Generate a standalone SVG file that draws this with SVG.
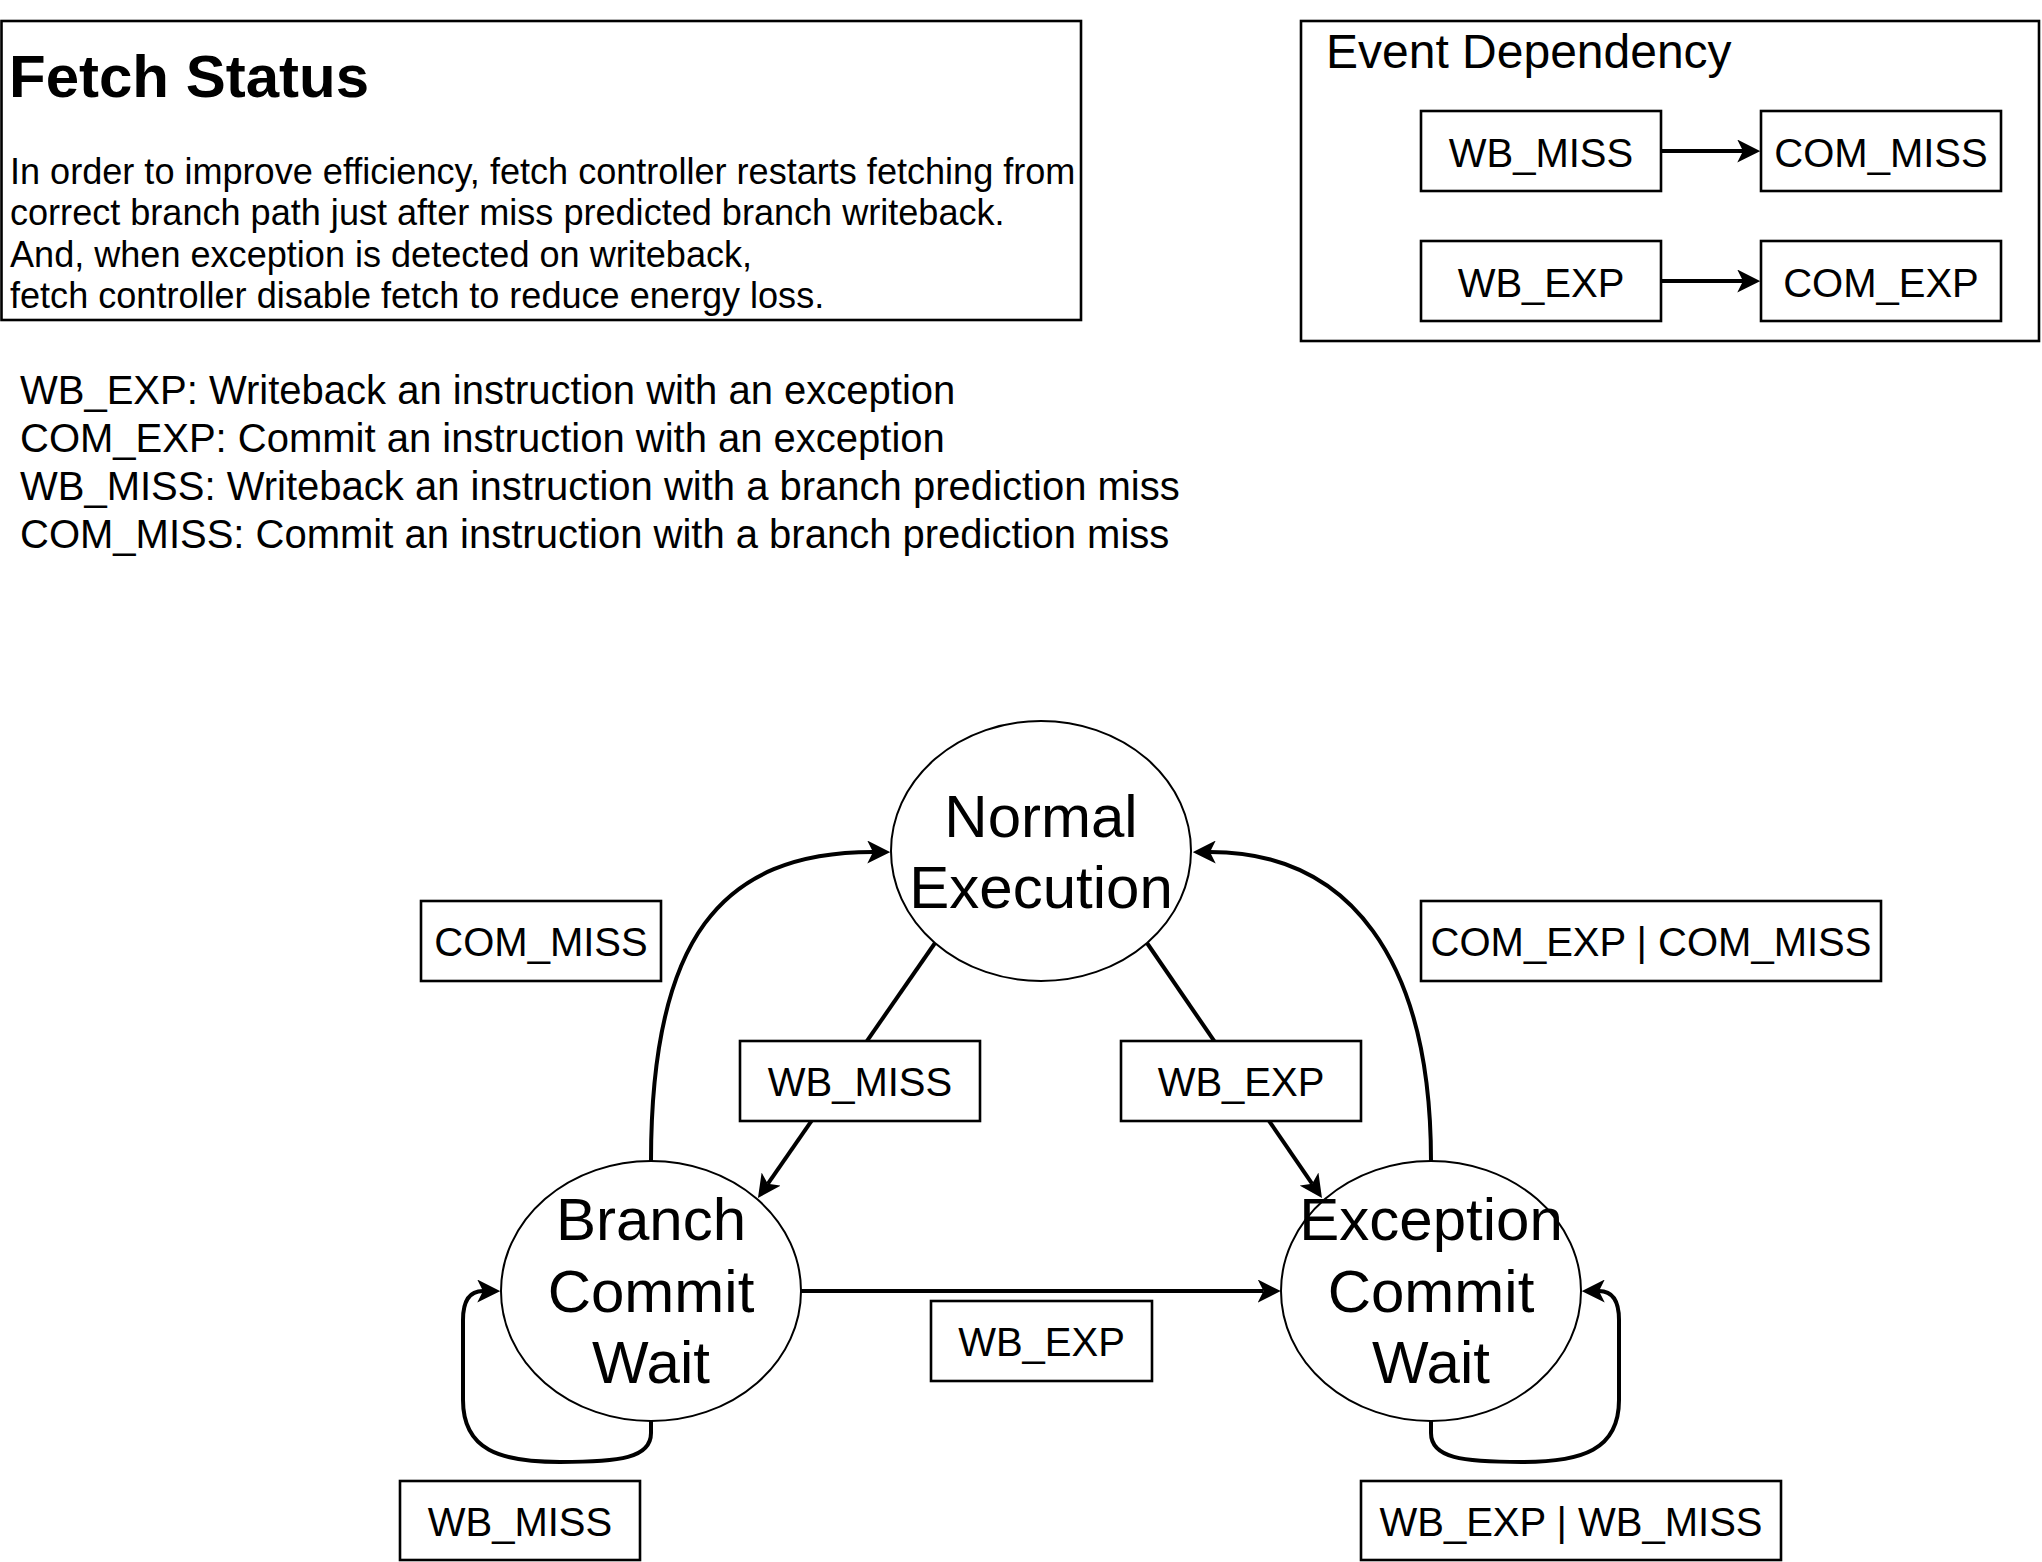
<svg xmlns="http://www.w3.org/2000/svg" width="2042" height="1562" viewBox="0 0 2042 1562">
<style>
text{font-family:"Liberation Sans",Arial,sans-serif;fill:#000}
.box{fill:#fff;stroke:#000;stroke-width:2.6}
.frame{fill:none;stroke:#000;stroke-width:2.6}
.state{fill:#fff;stroke:#000;stroke-width:2}
.lbl{font-size:40px;text-anchor:middle}
.st{font-size:60px;text-anchor:middle}
.body{font-size:36.1px}
.leg{font-size:40px}
.edge{fill:none;stroke:#000;stroke-width:4}
</style>
<defs>
<marker id="arr" markerUnits="userSpaceOnUse" viewBox="0 0 23 23" markerWidth="23" markerHeight="23" refX="5.75" refY="11.5" orient="auto">
<path d="M0,0 L23,11.5 L0,23 L5.75,11.5 Z" fill="#000"/>
</marker>
</defs>
<rect width="2042" height="1562" fill="#fff"/>

<g id="fetch-status">
<rect class="frame" x="1.5" y="21" width="1079.5" height="299"/>
<text x="9" y="96.7" style="font-size:60px;font-weight:bold">Fetch Status</text>
<text class="body" x="10" y="183.5">In order to improve efficiency, fetch controller restarts fetching from</text>
<text class="body" x="10" y="225">correct branch path just after miss predicted branch writeback.</text>
<text class="body" x="10" y="266.5">And, when exception is detected on writeback,</text>
<text class="body" x="10" y="307.5">fetch controller disable fetch to reduce energy loss.</text>
</g>

<g id="legend">
<text class="leg" x="20" y="403.5">WB_EXP: Writeback an instruction with an exception</text>
<text class="leg" x="20" y="451.5">COM_EXP: Commit an instruction with an exception</text>
<text class="leg" x="20" y="499.5">WB_MISS: Writeback an instruction with a branch prediction miss</text>
<text class="leg" x="20" y="547.5">COM_MISS: Commit an instruction with a branch prediction miss</text>
</g>

<g id="event-dependency">
<rect class="frame" x="1301" y="21" width="738" height="320"/>
<text x="1326" y="68.3" style="font-size:48px">Event Dependency</text>
</g>

<g id="connectors">
<path class="edge" d="M1661,151 L1743,151" marker-end="url(#arr)"/>
<path class="edge" d="M1661,281 L1743,281" marker-end="url(#arr)"/>
<path class="edge" d="M935,943 L767.8,1183.8" marker-end="url(#arr)"/>
<path class="edge" d="M1147,943 L1312.2,1183.8" marker-end="url(#arr)"/>
<path class="edge" d="M801,1291 L1263.5,1291" marker-end="url(#arr)"/>
<path class="edge" d="M651,1161 C651,940 720,852 873,852" marker-end="url(#arr)"/>
<path class="edge" d="M1431,1161 C1431,960 1350,852 1210,852" marker-end="url(#arr)"/>
<path class="edge" d="M651,1421 L651,1433 C651,1458 620,1462 560,1462 C500,1462 463,1450 463,1400 L463,1320 C463,1300 470,1291 483,1291" marker-end="url(#arr)"/>
<path class="edge" d="M1431,1421 L1431,1433 C1431,1458 1462,1462 1522,1462 C1582,1462 1619,1450 1619,1400 L1619,1320 C1619,1300 1612,1291 1599,1291" marker-end="url(#arr)"/>
</g>

<g id="ev-wb-miss">
<rect class="box" x="1421" y="111" width="240" height="80"/>
<text class="lbl" x="1541" y="166.5">WB_MISS</text>
</g>
<g id="ev-com-miss">
<rect class="box" x="1761" y="111" width="240" height="80"/>
<text class="lbl" x="1881" y="166.5">COM_MISS</text>
</g>
<g id="ev-wb-exp">
<rect class="box" x="1421" y="241" width="240" height="80"/>
<text class="lbl" x="1541" y="296.5">WB_EXP</text>
</g>
<g id="ev-com-exp">
<rect class="box" x="1761" y="241" width="240" height="80"/>
<text class="lbl" x="1881" y="296.5">COM_EXP</text>
</g>

<g id="state-normal">
<ellipse class="state" cx="1041" cy="851" rx="150" ry="130"/>
<text class="st" x="1041" y="836.7">Normal</text>
<text class="st" x="1041" y="908.3">Execution</text>
</g>
<g id="state-branch">
<ellipse class="state" cx="651" cy="1291" rx="150" ry="130"/>
<text class="st" x="651" y="1240">Branch</text>
<text class="st" x="651" y="1311.7">Commit</text>
<text class="st" x="651" y="1383.3">Wait</text>
</g>
<g id="state-exception">
<ellipse class="state" cx="1431" cy="1291" rx="150" ry="130"/>
<text class="st" x="1431" y="1240">Exception</text>
<text class="st" x="1431" y="1311.7">Commit</text>
<text class="st" x="1431" y="1383.3">Wait</text>
</g>

<g id="label-com-miss">
<rect class="box" x="421" y="901" width="240" height="80"/>
<text class="lbl" x="541" y="956">COM_MISS</text>
</g>
<g id="label-com-exp-com-miss">
<rect class="box" x="1421" y="901" width="460" height="80"/>
<text class="lbl" x="1651" y="956">COM_EXP | COM_MISS</text>
</g>
<g id="label-wb-miss">
<rect class="box" x="740" y="1041" width="240" height="80"/>
<text class="lbl" x="860" y="1096">WB_MISS</text>
</g>
<g id="label-wb-exp">
<rect class="box" x="1121" y="1041" width="240" height="80"/>
<text class="lbl" x="1241" y="1096">WB_EXP</text>
</g>
<g id="label-wb-exp-bottom">
<rect class="box" x="931" y="1301" width="221" height="80"/>
<text class="lbl" x="1041.5" y="1356">WB_EXP</text>
</g>
<g id="label-wb-miss-loop">
<rect class="box" x="400" y="1481" width="240" height="79"/>
<text class="lbl" x="520" y="1536">WB_MISS</text>
</g>
<g id="label-wb-exp-wb-miss-loop">
<rect class="box" x="1361" y="1481" width="420" height="79"/>
<text class="lbl" x="1571" y="1536">WB_EXP | WB_MISS</text>
</g>
</svg>
